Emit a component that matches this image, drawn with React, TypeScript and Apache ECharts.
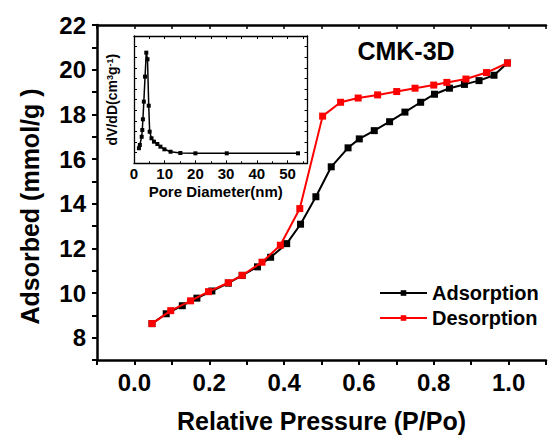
import React, { useEffect, useRef } from "react";
import * as echarts from "echarts";

// Main isotherm data (relative pressure P/Po vs adsorbed mmol/g)
const adsorptionP = [0.047, 0.085, 0.128, 0.167, 0.207, 0.251, 0.288, 0.329, 0.364, 0.407, 0.444, 0.485, 0.526, 0.571, 0.601, 0.641, 0.682, 0.723, 0.765, 0.802, 0.842, 0.882, 0.921, 0.961, 0.997];
const adsorptionQ = [8.63, 9.07, 9.43, 9.77, 10.09, 10.44, 10.79, 11.17, 11.6, 12.21, 13.08, 14.31, 15.65, 16.5, 16.9, 17.27, 17.67, 18.1, 18.54, 18.9, 19.17, 19.34, 19.51, 19.75, 20.3];
const desorptionP = [0.047, 0.097, 0.15, 0.198, 0.251, 0.288, 0.341, 0.39, 0.442, 0.503, 0.551, 0.598, 0.65, 0.701, 0.75, 0.8, 0.835, 0.886, 0.941, 0.997];
const desorptionQ = [8.63, 9.21, 9.65, 10.06, 10.46, 10.79, 11.38, 12.14, 13.78, 17.92, 18.54, 18.73, 18.87, 19.02, 19.17, 19.31, 19.43, 19.58, 19.87, 20.3];

// Inset: pore size distribution (arbitrary units)
const poreDiameter = [1.6, 1.9, 2.5, 2.7, 2.9, 3.2, 3.6, 4.0, 4.4, 4.8, 5.1, 5.7, 6.5, 7.6, 8.6, 9.9, 11.9, 15.1, 20.0, 30.2, 53.4];
const poreDvDd = [1.42, 1.73, 2.5, 3.14, 4.15, 5.81, 8.17, 10.43, 9.81, 5.43, 2.98, 2.36, 2.04, 1.82, 1.57, 1.32, 1.09, 0.97, 0.94, 0.94, 0.94];

const seriesNames = ["Adsorption", "Desorption"];
const sampleLabel = "CMK-3D";

const FONT = "Liberation Sans, Arial, sans-serif";

export default function App() {
  const ref = useRef<HTMLDivElement>(null);

  useEffect(() => {
    document.body.style.margin = "0";
    if (!ref.current) return;
    const chart = echarts.init(ref.current, undefined, { renderer: "svg" });

    const mainAxisLine = { onZero: false, lineStyle: { color: "#000", width: 2.5 } };
    const insetAxisLine = { onZero: false, lineStyle: { color: "#000", width: 1.3 } };

    chart.setOption({
      animation: false,
      backgroundColor: "#fff",
      textStyle: { fontFamily: FONT },
      grid: [
        { left: 97, top: 25, width: 454, height: 342 },
        { left: 134, top: 36, width: 173.5, height: 127.3 },
      ],
      legend: {
        data: seriesNames,
        orient: "vertical",
        left: 374,
        top: 278,
        itemWidth: 47,
        itemHeight: 7,
        itemGap: 5,
        textStyle: { fontFamily: FONT, fontSize: 20, fontWeight: "bold", color: "#000" },
      },
      xAxis: [
        {
          type: "value",
          gridIndex: 0,
          min: -0.1,
          max: 1.1,
          interval: 0.1,
          position: "bottom",
          axisLine: mainAxisLine,
          axisTick: { show: true, inside: false, length: 5, lineStyle: { width: 2, color: "#000" } },
          axisLabel: {
            margin: 10,
            fontFamily: FONT,
            fontSize: 24,
            fontWeight: "bold",
            color: "#000",
            formatter: (v: number) => (Math.abs(Math.round(v * 10)) % 2 === 0 ? v.toFixed(1) : ""),
          },
          splitLine: { show: false },
          name: "Relative Pressure (P/Po)",
          nameLocation: "middle",
          nameGap: 48,
          nameTextStyle: { fontFamily: FONT, fontSize: 25, fontWeight: "bold", color: "#000" },
        },
        {
          type: "value",
          gridIndex: 0,
          min: -0.1,
          max: 1.1,
          interval: 0.1,
          position: "top",
          axisLine: mainAxisLine,
          axisTick: { show: true, inside: true, length: 4, lineStyle: { width: 1.5, color: "#000" } },
          axisLabel: { show: false },
          splitLine: { show: false },
        },
        {
          type: "value",
          gridIndex: 1,
          min: 0,
          max: 56.5,
          interval: 10,
          position: "bottom",
          axisLine: insetAxisLine,
          axisTick: { show: true, inside: true, length: 3, lineStyle: { width: 1, color: "#000" } },
          minorTick: { show: true, splitNumber: 2, length: 2, lineStyle: { width: 1, color: "#000" } },
          axisLabel: { margin: 3, fontFamily: FONT, fontSize: 15, fontWeight: "bold", color: "#000", showMaxLabel: false },
          splitLine: { show: false },
          name: "Pore Diameter(nm)",
          nameLocation: "middle",
          nameGap: 21,
          nameTextStyle: { fontFamily: FONT, fontSize: 15, fontWeight: "bold", color: "#000", padding: [0, 10, 0, 0] },
        },
        {
          type: "value",
          gridIndex: 1,
          min: 0,
          max: 56.5,
          interval: 5,
          position: "top",
          axisLine: insetAxisLine,
          axisTick: { show: true, inside: true, length: 3, lineStyle: { width: 1, color: "#000" } },
          axisLabel: { show: false },
          splitLine: { show: false },
        },
      ],
      yAxis: [
        {
          type: "value",
          gridIndex: 0,
          min: 7,
          max: 22,
          interval: 1,
          position: "left",
          axisLine: mainAxisLine,
          axisTick: { show: true, inside: false, length: 5, lineStyle: { width: 2, color: "#000" } },
          axisLabel: {
            margin: 11,
            fontFamily: FONT,
            fontSize: 24,
            fontWeight: "bold",
            color: "#000",
            formatter: (v: number) => (Math.round(v) % 2 === 0 ? String(Math.round(v)) : ""),
          },
          splitLine: { show: false },
          name: "Adsorbed (mmol/g )",
          nameLocation: "middle",
          nameGap: 55,
          nameTextStyle: { fontFamily: FONT, fontSize: 25, fontWeight: "bold", color: "#000", padding: [0, 28, 0, 0] },
        },
        {
          type: "value",
          gridIndex: 1,
          min: 0,
          max: 12,
          interval: 1,
          position: "left",
          axisLine: insetAxisLine,
          axisTick: { show: true, inside: true, length: 3, lineStyle: { width: 1, color: "#000" } },
          axisLabel: { show: false },
          splitLine: { show: false },
          name: "dV/dD(cm{sup|3}g{sup|-1})",
          nameLocation: "middle",
          nameGap: 15,
          nameTextStyle: {
            fontFamily: FONT,
            fontSize: 14,
            fontWeight: "bold",
            color: "#000",
            rich: {
              sup: { fontFamily: FONT, fontSize: 9, fontWeight: "bold", color: "#000", verticalAlign: "top", lineHeight: 14 },
            },
          },
        },
        {
          type: "value",
          gridIndex: 1,
          min: 0,
          max: 12,
          interval: 1,
          position: "right",
          axisLine: insetAxisLine,
          axisTick: { show: true, inside: true, length: 3, lineStyle: { width: 1, color: "#000" } },
          axisLabel: { show: false },
          splitLine: { show: false },
        },
      ],
      graphic: [
        {
          type: "text",
          style: {
            x: 406,
            y: 51,
            text: sampleLabel,
            align: "center",
            verticalAlign: "middle",
            font: `bold 25px ${FONT}`,
            fill: "#000",
          },
        },
      ],
      series: [
        {
          name: seriesNames[0],
          type: "line",
          xAxisIndex: 0,
          yAxisIndex: 0,
          data: adsorptionP.map((p, i) => [p, adsorptionQ[i]]),
          symbol: "rect",
          symbolSize: 7,
          itemStyle: { color: "#000" },
          lineStyle: { color: "#000", width: 2 },
          z: 3,
        },
        {
          name: seriesNames[1],
          type: "line",
          xAxisIndex: 0,
          yAxisIndex: 0,
          data: desorptionP.map((p, i) => [p, desorptionQ[i]]),
          symbol: "rect",
          symbolSize: 7,
          itemStyle: { color: "#ff0000" },
          lineStyle: { color: "#ff0000", width: 2 },
          z: 4,
        },
        {
          name: "PSD",
          type: "line",
          xAxisIndex: 2,
          yAxisIndex: 1,
          data: poreDiameter.map((d, i) => [d, poreDvDd[i]]),
          symbol: "rect",
          symbolSize: 4,
          itemStyle: { color: "#000" },
          lineStyle: { color: "#000", width: 1.5 },
          z: 5,
        },
      ],
    });

    return () => chart.dispose();
  }, []);

  return (
    <div
      ref={ref}
      style={{ position: "absolute", left: 0, top: 0, width: 549, height: 438, background: "#fff" }}
    />
  );
}
